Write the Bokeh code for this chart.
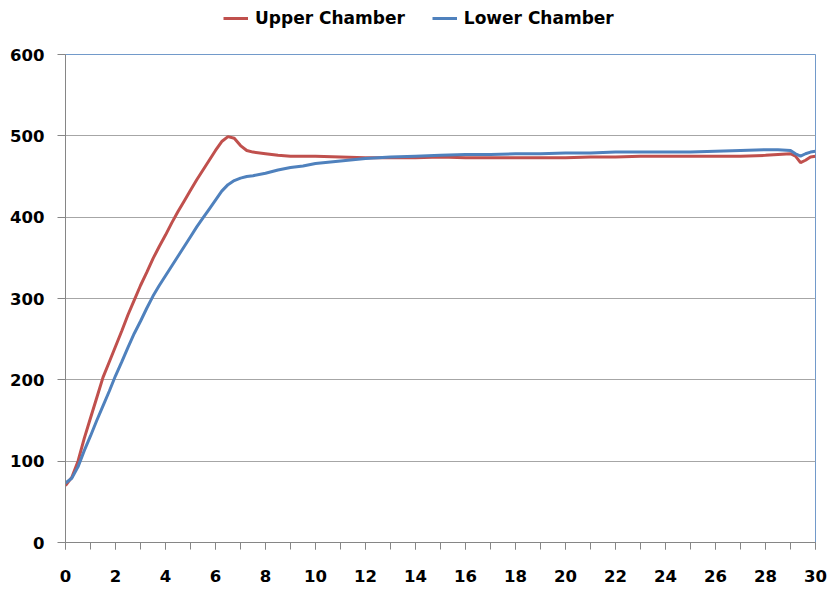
from bokeh.plotting import figure
from bokeh.layouts import column
from bokeh.models import Range1d, SingleIntervalTicker, FixedTicker, Legend, LegendItem
from bokeh.embed import file_html
from bokeh.resources import INLINE

# Time (x axis)
time = [0, 0.25, 0.5, 0.75, 1, 1.25, 1.5, 1.75, 2, 2.25, 2.5, 2.75, 3, 3.25, 3.5, 3.75,
        4, 4.25, 4.5, 4.75, 5, 5.25, 5.5, 5.75, 6, 6.25, 6.5, 6.75, 7, 7.25, 7.5, 8,
        8.5, 9, 9.5, 10, 11, 12, 13, 14, 15, 16, 17, 18, 19, 20, 21, 22, 23, 24, 25,
        26, 27, 28, 28.5, 29, 29.2, 29.4, 29.6, 29.8, 30]

upper_chamber = [70, 80, 100, 128, 153, 178, 203, 222, 241, 260, 280, 298, 316, 332, 349, 364,
                 378, 393, 407, 420, 433, 446, 458, 470, 482, 493, 499, 497, 488, 482, 480, 478,
                 476, 475, 475, 475, 474, 473, 473, 473, 474, 473, 473, 473, 473, 473, 474, 474, 475, 475, 475,
                 475, 475, 476, 477, 478, 475, 467, 470, 474, 475]

lower_chamber = [73, 79, 93, 113, 131, 150, 168, 186, 205, 222, 240, 257, 272, 288, 303, 316,
                 328, 340, 352, 364, 376, 388, 399, 410, 421, 432, 440, 445, 448, 450, 451, 454,
                 458, 461, 463, 466, 469, 472, 474, 475, 476, 477, 477, 478, 478, 479, 479, 480, 480, 480, 480,
                 481, 482, 483, 483, 482, 478, 475, 478, 480, 481]

series_names = ["Upper Chamber", "Lower Chamber"]
y_ticks = [0, 100, 200, 300, 400, 500, 600]
grid_ticks = [100, 200, 300, 400, 500]

RED = "#C0504D"
BLUE = "#4F81BD"
AXIS = "#868686"
FONT = "DejaVu Sans"

# ---- legend strip on top (series drawn out of view; only the legend shows) ----
lg = figure(width=827, height=30, output_backend="svg", toolbar_location=None,
            x_axis_type=None, y_axis_type=None,
            x_range=Range1d(-20, -10), y_range=Range1d(-20, -10),
            min_border=0, min_border_left=0, min_border_right=0,
            min_border_top=0, min_border_bottom=0)
lg.outline_line_color = None
lg.grid.visible = False
lr1 = lg.line(time, upper_chamber, line_color=RED, line_width=3)
lr2 = lg.line(time, lower_chamber, line_color=BLUE, line_width=3)
legend = Legend(items=[LegendItem(label=series_names[0], renderers=[lr1]),
                       LegendItem(label=series_names[1], renderers=[lr2])],
                orientation="horizontal", location=(158, 2),
                padding=0, margin=0, spacing=27, glyph_width=25, label_standoff=7,
                border_line_color=None, background_fill_alpha=0,
                label_text_font=FONT, label_text_font_style="bold",
                label_text_font_size="17px", label_text_color="#000000")
lg.add_layout(legend, "center")

# ---- main chart ----
p = figure(width=827, height=560, output_backend="svg", toolbar_location=None,
           x_range=Range1d(0, 30), y_range=Range1d(0, 600),
           min_border_left=65, min_border_right=12, min_border_top=24, min_border_bottom=48)

p.line(time, upper_chamber, line_color=RED, line_width=3)
p.line(time, lower_chamber, line_color=BLUE, line_width=3)

p.outline_line_color = BLUE
p.outline_line_alpha = 0.8
p.outline_line_width = 1

p.xgrid.visible = False
p.ygrid.ticker = FixedTicker(ticks=grid_ticks)
p.ygrid.grid_line_color = "#A6A6A6"
p.ygrid.grid_line_width = 1

xa = p.xaxis[0]
xa.ticker = SingleIntervalTicker(interval=2, num_minor_ticks=2)
xa.axis_line_color = AXIS
xa.major_tick_line_color = AXIS
xa.minor_tick_line_color = AXIS
xa.major_tick_out = 7
xa.major_tick_in = 0
xa.minor_tick_out = 7
xa.minor_tick_in = 0
xa.major_label_standoff = 20
xa.major_label_text_font = FONT
xa.major_label_text_font_style = "bold"
xa.major_label_text_font_size = "16.5px"
xa.major_label_text_color = "#000000"

ya = p.yaxis[0]
ya.ticker = FixedTicker(ticks=y_ticks)
ya.axis_line_color = AXIS
ya.major_tick_line_color = AXIS
ya.minor_tick_line_color = None
ya.major_tick_out = 8
ya.major_tick_in = 0
ya.major_label_standoff = 13
ya.major_label_text_font = FONT
ya.major_label_text_font_style = "bold"
ya.major_label_text_font_size = "16.5px"
ya.major_label_text_color = "#000000"

layout = column(lg, p, spacing=0)
open("out.html", "w").write(file_html(layout, INLINE))
